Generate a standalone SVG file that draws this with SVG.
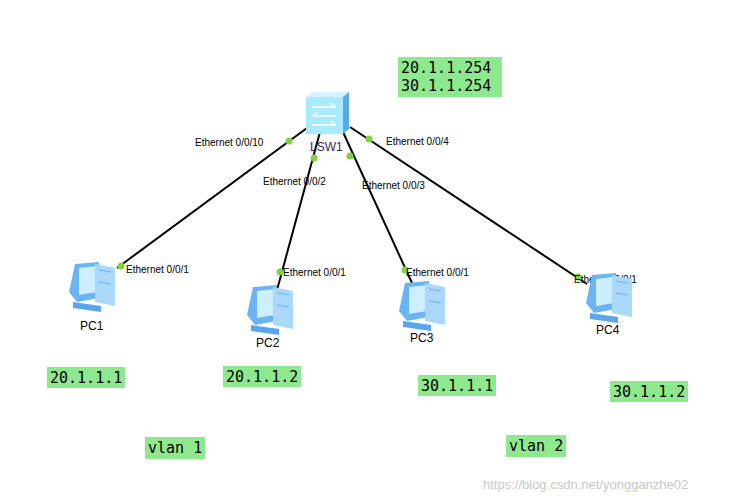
<svg xmlns="http://www.w3.org/2000/svg" width="743" height="501" viewBox="0 0 743 501">
<defs>
<style>
.lbl{font-family:"Liberation Sans",Arial,sans-serif;font-size:10px;fill:#000}
.nm{font-family:"Liberation Sans",Arial,sans-serif;font-size:12px;fill:#000}
.box{fill:#8ee88e}
.ip{font-family:"DejaVu Sans Mono",monospace;font-size:15px;fill:#000}
.ln{stroke:#000;stroke-width:2;fill:none}
.dot{fill:#7ed23c}
</style>
<g id="pcicon">
<path d="M10,2 L34,0 L34,36 L12,40 L4,30 Z" fill="#6ab4f4"/>
<path d="M14,6 L32,4 L32,30 L14,33 Z" fill="#cdeeff"/>
<path d="M30,2 L50,6 L50,44 L30,40 Z" fill="#a9d8fb"/>
<path d="M34,8 L46,10 M34,20 L46,22" stroke="#6ab4f4"/>
<path d="M8,40 L36,44 L36,50 L8,46 Z" fill="#5aa6ee"/>
</g>
</defs>
<rect width="743" height="501" fill="#fff"/>
<g id="connectors">
<line class="ln" x1="307" y1="128" x2="117" y2="268"/>
<line class="ln" x1="320" y1="132" x2="277" y2="290"/>
<line class="ln" x1="343" y1="132" x2="412" y2="283"/>
<line class="ln" x1="350" y1="127" x2="587" y2="284"/>
<circle class="dot" cx="289" cy="141" r="3.5"/>
<circle class="dot" cx="314" cy="158" r="3.5"/>
<circle class="dot" cx="350" cy="156" r="3.5"/>
<circle class="dot" cx="369" cy="139" r="3.5"/>
<circle class="dot" cx="121" cy="266" r="3.5"/>
<circle class="dot" cx="280" cy="272" r="3.5"/>
<circle class="dot" cx="405" cy="270" r="3.5"/>
<circle class="dot" cx="578" cy="277" r="3.5"/>
<text class="lbl" x="195" y="146">Ethernet 0/0/10</text>
<text class="lbl" x="263" y="185">Ethernet 0/0/2</text>
<text class="lbl" x="362" y="189">Ethernet 0/0/3</text>
<text class="lbl" x="386" y="145">Ethernet 0/0/4</text>
<text class="lbl" x="126" y="273">Ethernet 0/0/1</text>
<text class="lbl" x="283" y="276">Ethernet 0/0/1</text>
<text class="lbl" x="406" y="276">Ethernet 0/0/1</text>
<text class="lbl" x="574" y="283">Ethernet 0/0/1</text>
</g>
<g id="LSW1">
<path d="M306,97 L312,92 L349,92 L343,97 Z" fill="#d6f4ff"/>
<rect x="306" y="97" width="37" height="37" fill="#a8eaff"/>
<path d="M343,97 L349,92 L349,129 L343,134 Z" fill="#5aa6ee"/>
<path d="M312,107 L336,107 M330,103 L336,107 M312,116 L336,116 M318,112 L312,116 M312,125 L336,125 M330,121 L336,125" stroke="#fff" stroke-width="1.5" fill="none"/>
<text x="310" y="151" font-family="Liberation Sans,Arial,sans-serif" font-size="12" fill="#3c1e5a">LSW1</text>
</g>
<g id="PC1"><use href="#pcicon" x="65" y="262"/><text class="nm" x="80" y="330">PC1</text></g>
<g id="PC2"><use href="#pcicon" x="243" y="285"/><text class="nm" x="256" y="347">PC2</text></g>
<g id="PC3"><use href="#pcicon" x="395" y="281"/><text class="nm" x="410" y="342">PC3</text></g>
<g id="PC4"><use href="#pcicon" x="582" y="273"/><text class="nm" x="596" y="334">PC4</text></g>
<g id="notes">
<rect class="box" x="398" y="57" width="104" height="40"/>
<text class="ip" x="401" y="73">20.1.1.254</text>
<text class="ip" x="401" y="91">30.1.1.254</text>
<rect class="box" x="47" y="367" width="78" height="21"/>
<text class="ip" x="50" y="383">20.1.1.1</text>
<rect class="box" x="223" y="366" width="78" height="21"/>
<text class="ip" x="226" y="382">20.1.1.2</text>
<rect class="box" x="418" y="375" width="78" height="21"/>
<text class="ip" x="421" y="391">30.1.1.1</text>
<rect class="box" x="610" y="381" width="78" height="21"/>
<text class="ip" x="613" y="397">30.1.1.2</text>
<rect class="box" x="145" y="437" width="60" height="22"/>
<text class="ip" x="148" y="453">vlan 1</text>
<rect class="box" x="506" y="435" width="60" height="22"/>
<text class="ip" x="509" y="451">vlan 2</text>
</g>
<text x="483" y="489" font-family="Liberation Sans,Arial,sans-serif" font-size="13" fill="#c8c8c8">https://blog.csdn.net/yongganzhe02</text>
</svg>
